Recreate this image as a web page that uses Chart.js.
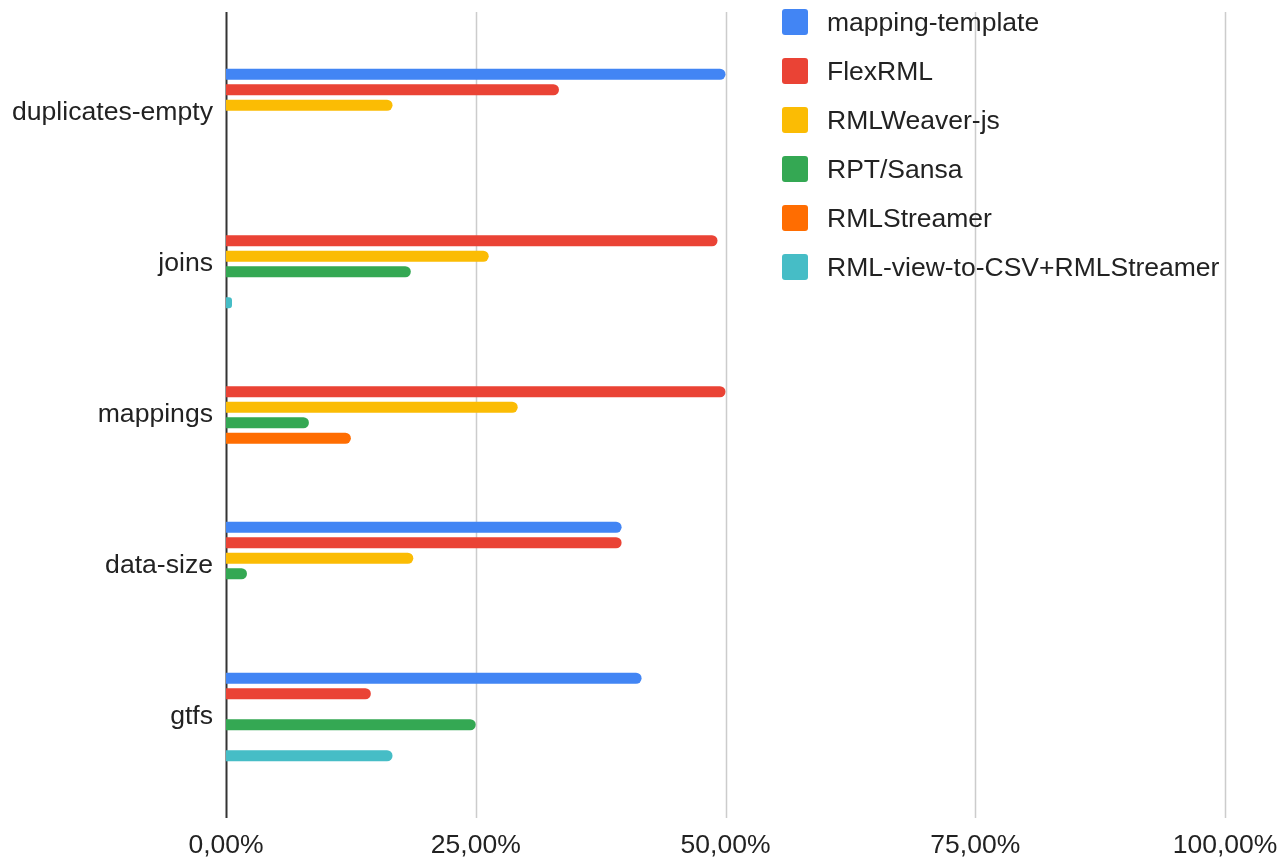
<!DOCTYPE html>
<html>
<head>
<meta charset="utf-8">
<script src="https://cdn.jsdelivr.net/npm/chart.js@4.4.1/dist/chart.umd.min.js"></script>
<style>
  body { margin: 0; background: #fff; }
  #wrap { position: relative; width: 1282px; height: 859px; }
  #legend { position: absolute; left: 782px; top: 0; font-family: "Liberation Sans", Arial, sans-serif; font-size: 26.5px; color: #222; }
  .item { position: absolute; left: 0; height: 26px; white-space: nowrap; }
  .box { position: absolute; left: 0; top: 0; width: 26px; height: 26px; border-radius: 3px; }
  .txt { position: absolute; left: 45px; top: -2px; line-height: 30px; }
</style>
</head>
<body>
<div id="wrap">
  <canvas id="benchChart" width="1282" height="859"></canvas>
  <div id="legend"></div>
</div>
<script>
const categories = ['duplicates-empty', 'joins', 'mappings', 'data-size', 'gtfs'];
const seriesNames = ['mapping-template', 'FlexRML', 'RMLWeaver-js', 'RPT/Sansa', 'RMLStreamer', 'RML-view-to-CSV+RMLStreamer'];
const colors = ['#4285F4', '#EA4335', '#FBBC04', '#34A853', '#FF6D01', '#46BDC6'];

// percentages per tool, in category order
const mappingTemplate = [50, 0, 0, 39.6, 41.6];
const flexRML = [33.33, 49.2, 50, 39.6, 14.5];
const rmlWeaverJs = [16.67, 26.3, 29.2, 18.75, 0];
const rptSansa = [0, 18.5, 8.3, 2.1, 25];
const rmlStreamer = [0, 0, 12.5, 0, 0];
const viewToCsv = [0, 0.6, 0, 0, 16.67];

const xTicks = [0, 25, 50, 75, 100];

const seriesValues = [mappingTemplate, flexRML, rmlWeaverJs, rptSansa, rmlStreamer, viewToCsv];

Chart.defaults.font.family = '"Liberation Sans", Arial, sans-serif';
Chart.defaults.color = '#222';

// vertical grid lines run a bit past the bar area, like the original
const longGrid = {
    id: 'longGrid',
    beforeDatasetsDraw(chart) {
        const ctx = chart.ctx;
        const area = chart.chartArea;
        const x = chart.scales.x;
        ctx.save();
        xTicks.forEach(v => {
            const px = Math.round(x.getPixelForValue(v)) + 0.5;
            ctx.beginPath();
            ctx.strokeStyle = v === 0 ? '#333' : '#ccc';
            ctx.lineWidth = v === 0 ? 2 : 1.5;
            ctx.moveTo(px, area.top - 25.5);
            ctx.lineTo(px, area.bottom + 25.5);
            ctx.stroke();
        });
        ctx.restore();
    }
};

const ctx = document.getElementById('benchChart').getContext('2d');
const chart = new Chart(ctx, {
    type: 'bar',
    data: {
        labels: categories,
        datasets: seriesNames.map((name, i) => ({
            label: name,
            data: seriesValues[i],
            backgroundColor: colors[i],
            borderRadius: 5.5,
            borderSkipped: 'start',
            categoryPercentage: 0.616,
            barPercentage: 0.71
        }))
    },
    options: {
        indexAxis: 'y',
        responsive: false,
        animation: false,
        layout: { padding: { top: 37.5, right: 57, bottom: 0, left: 0 } },
        plugins: {
            legend: { display: false },
            tooltip: { enabled: false }
        },
        scales: {
            x: {
                min: 0,
                max: 100,
                afterBuildTicks(scale) { scale.ticks = xTicks.map(v => ({ value: v })); },
                afterFit(scale) {
                    scale.height = 66.5;
                    scale.paddingLeft = 0;
                    scale.paddingRight = 0;
                },
                grid: { display: false, drawTicks: false },
                border: { display: false },
                ticks: {
                    padding: 37,
                    font: { size: 26.5 },
                    color: '#222',
                    maxRotation: 0,
                    callback: v => v.toFixed(2).replace('.', ',') + '%'
                }
            },
            y: {
                afterFit(scale) { scale.width = 226; },
                grid: { display: false, drawTicks: false },
                border: { display: false },
                ticks: { padding: 13, font: { size: 26.6 }, color: '#222' }
            }
        }
    },
    plugins: [longGrid]
});

// legend sits on top of the plot, on the right
const legend = document.getElementById('legend');
seriesNames.forEach((name, i) => {
    const item = document.createElement('div');
    item.className = 'item';
    item.style.top = (9 + 49 * i) + 'px';
    item.innerHTML = '<span class="box" style="background:' + colors[i] + '"></span><span class="txt">' + name + '</span>';
    legend.appendChild(item);
});
</script>
</body>
</html>
